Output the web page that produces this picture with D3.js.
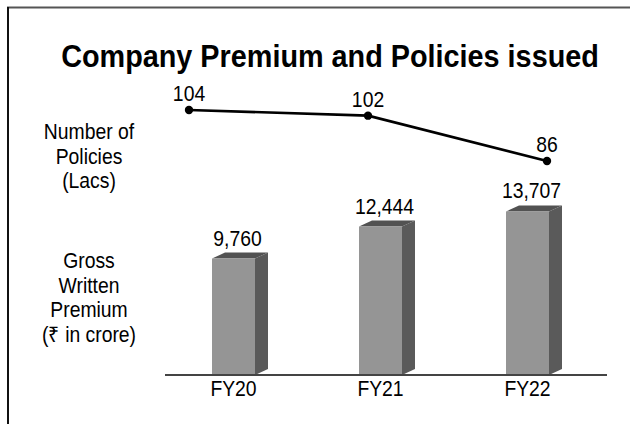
<!DOCTYPE html>
<html lang="en">
<head>
  <meta charset="utf-8" />
  <script src="https://d3js.org/d3.v7.min.js"></script>
  <title>Company Premium and Policies issued</title>
  <style>
    body { margin: 0; background: #fff; }
    text { font-family: "Liberation Sans", Arial, sans-serif; fill: #000; }
  </style>
</head>
<body>
  <svg width="630" height="424"></svg>
  <script>
  // chart data
  var years = ["FY20", "FY21", "FY22"];
  var premium = [9760, 12444, 13707];      // Gross Written Premium (₹ in crore)
  var policies = [104, 102, 86];           // Number of Policies (Lacs)
  var policyLabel = ["Number of", "Policies", "(Lacs)"];
  var premiumLabel = ["Gross", "Written", "Premium", "(₹ in crore)"];
  var title = "Company Premium and Policies issued";

  var width = 630, height = 424;
  var baseY = 375;
  var barW = 43, depthX = 13, depthY = 6;
  var squeeze = 0.9; // text in the original is slightly condensed

  var svg = d3.select("svg");
  var fmt = d3.format(",");

  // helper: text with horizontal squeeze
  function label(g, x, y, str, size, weight) {
    return g.append("text")
      .attr("transform", "translate(" + x + "," + y + ") scale(" + squeeze + ",1)")
      .attr("text-anchor", "middle")
      .attr("font-size", size)
      .attr("font-weight", weight || "normal")
      .text(str);
  }

  // frame
  svg.append("line").attr("x1", 7).attr("x2", width).attr("y1", 7.5).attr("y2", 7.5)
    .attr("stroke", "#555").attr("stroke-width", 2);
  svg.append("line").attr("x1", 8).attr("x2", 8).attr("y1", 7).attr("y2", height)
    .attr("stroke", "#111").attr("stroke-width", 2);

  label(svg, 330, 67, title, 32, "bold");

  // scales
  var x = d3.scalePoint().domain(years).range([233.5, 527.5]);
  var y = d3.scaleLinear().domain([0, 14000]).range([baseY, 208]);
  var xl = d3.scalePoint().domain(years).range([189, 547]);
  var yl = d3.scaleLinear().domain([86, 104]).range([161, 110]);

  // bars (3d look)
  var bars = svg.append("g").selectAll("g")
    .data(years.map(function(d, i) { return { year: d, value: premium[i] }; }))
    .enter().append("g");

  bars.append("path")  // side face
    .attr("fill", "#5a5a5a")
    .attr("d", function(d) {
      var x1 = x(d.year) + barW / 2, t = y(d.value);
      return "M" + x1 + "," + baseY + "L" + (x1 + depthX) + "," + (baseY - depthY) +
        "L" + (x1 + depthX) + "," + (t - depthY) + "L" + x1 + "," + t + "Z";
    });
  bars.append("path")  // top face
    .attr("fill", "#525252")
    .attr("d", function(d) {
      var x0 = x(d.year) - barW / 2, x1 = x0 + barW, t = y(d.value);
      return "M" + x0 + "," + t + "L" + (x0 + depthX) + "," + (t - depthY) +
        "L" + (x1 + depthX) + "," + (t - depthY) + "L" + x1 + "," + t + "Z";
    });
  bars.append("rect")  // front face
    .attr("fill", "#959595")
    .attr("x", function(d) { return x(d.year) - barW / 2; })
    .attr("width", barW)
    .attr("y", function(d) { return y(d.value); })
    .attr("height", function(d) { return baseY - y(d.value); });

  bars.each(function(d) {
    label(d3.select(this), x(d.year) + 4, y(d.value) - 13, fmt(d.value), 21.5);
  });

  // axis baseline + category labels
  svg.append("line").attr("x1", 165).attr("x2", 607).attr("y1", baseY).attr("y2", baseY)
    .attr("stroke", "#444").attr("stroke-width", 2);
  years.forEach(function(d) { label(svg, x(d), 396, d, 21.5); });

  // policies line
  var pts = years.map(function(d, i) { return { year: d, value: policies[i] }; });
  svg.append("path")
    .datum(pts)
    .attr("fill", "none")
    .attr("stroke", "#000")
    .attr("stroke-width", 2.6)
    .attr("d", d3.line().x(function(d) { return xl(d.year); }).y(function(d) { return yl(d.value); }));
  svg.append("g").selectAll("circle")
    .data(pts).enter().append("circle")
    .attr("cx", function(d) { return xl(d.year); })
    .attr("cy", function(d) { return yl(d.value); })
    .attr("r", 4.2)
    .attr("fill", "#000");
  pts.forEach(function(d) { label(svg, xl(d.year), yl(d.value) - 9, d.value, 21.5); });

  // left side titles
  policyLabel.forEach(function(s, i) { label(svg, 89, 139 + i * 24.5, s, 21.5); });
  premiumLabel.forEach(function(s, i) { label(svg, 89, 268 + i * 24.5, s, 21.5); });
  </script>
</body>
</html>
